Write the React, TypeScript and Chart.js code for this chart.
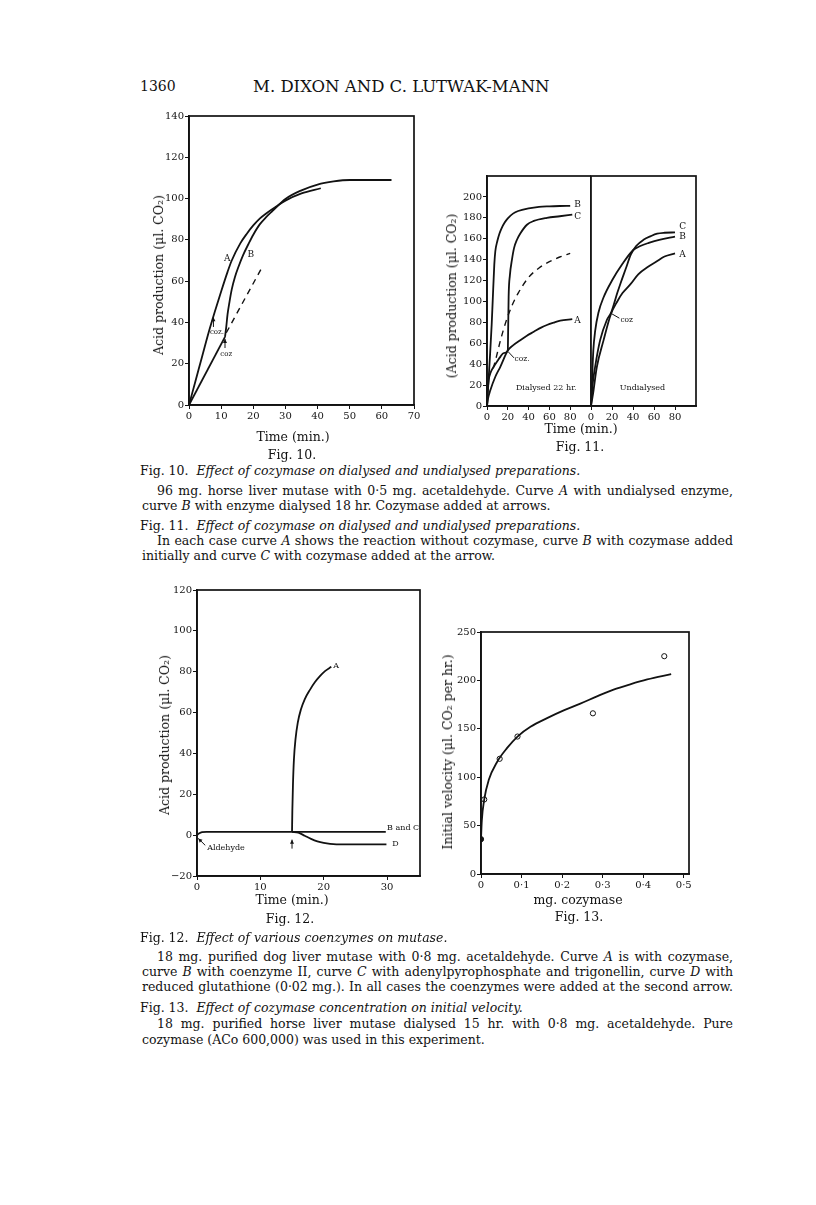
import React, { useEffect, useRef } from 'react';
import { Chart, registerables } from 'chart.js';

Chart.register(...registerables);

const INK = '#121212';
const SERIF = '"DejaVu Serif", "Liberation Serif", serif';

// ---------- Fig. 10 ----------
const fig10XTicks = [0, 10, 20, 30, 40, 50, 60, 70];
const fig10YTicks = [0, 20, 40, 60, 80, 100, 120, 140];
const fig10ATime = [0, 2, 4, 6, 8, 10, 12, 13.3, 16, 18, 20, 22, 24, 27, 30, 35, 41];
const fig10AAcid = [0, 11.5, 23, 34.5, 45, 55, 64.5, 70, 78.4, 83, 87, 90.3, 92.8, 96, 99, 102.5, 105];
const fig10BLagTime = [0, 11.2];
const fig10BLagAcid = [0, 33];
const fig10BTime = [11.2, 11.6, 12, 12.6, 13.3, 14.3, 15.4, 16.8, 18.5, 20, 22, 24, 26, 30, 35, 40, 45, 50, 63];
const fig10BAcid = [33, 38, 44, 50, 56, 62, 67, 72.5, 78, 82.5, 87.5, 91, 94, 99.8, 104, 106.8, 108.3, 109, 109];
const fig10DashTime = [11.6, 23];
const fig10DashAcid = [35, 67.5];

// ---------- Fig. 11 ----------
const fig11XTicks = [0, 20, 40, 60, 80];
const fig11YTicks = [0, 20, 40, 60, 80, 100, 120, 140, 160, 180, 200];
// Dialysed 22 hr.
const fig11DialBTime = [0, 1.5, 3, 4.5, 5.5, 7, 8, 10, 12, 14, 17, 20, 25, 30, 40, 50, 60, 70, 80];
const fig11DialBAcid = [0, 25, 50, 78, 101, 135, 148, 158, 165, 170, 175.5, 179.5, 184, 186.5, 189, 190.5, 191, 191.3, 191.5];
const fig11DialCTime = [0, 0.5, 1.6, 3.5, 6.4, 10, 12.8, 16, 20, 20.3, 20.8, 22, 24, 26, 28.8, 32, 38.4, 45, 57.6, 70, 82];
const fig11DialCAcid = [0, 12, 24.7, 32, 37.5, 43, 47, 50.5, 53, 70, 104.6, 125, 140, 151, 159, 165, 173.4, 177, 180, 181.5, 183];
const fig11DialATime = [0, 1, 3.2, 8, 12.8, 20, 25, 32, 38, 45, 52, 57.6, 65, 70.4, 82];
const fig11DialAAcid = [0, 7, 15, 28, 37.5, 53, 58, 63, 67, 71, 75, 77.5, 80, 81.6, 83];
const fig11DialDashTime = [6, 9, 13, 18, 24, 30, 40, 50, 60, 70, 80];
const fig11DialDashAcid = [36, 47, 63, 80, 96, 108, 123, 132, 138, 142.5, 146];
// Undialysed
const fig11UndBTime = [0, 0.5, 1, 2.2, 4, 7, 12, 20, 30, 40, 47, 55, 65, 80];
const fig11UndBAcid = [0, 14, 25, 53, 72, 89, 104, 120, 136, 149, 153, 156, 159, 162];
const fig11UndCTime = [0, 1.5, 4, 8.7, 15, 19, 22, 25, 28, 33, 38, 43, 50, 57, 63, 70, 80];
const fig11UndCAcid = [0, 20, 38, 63, 82, 89, 98, 108, 117, 131, 145, 153, 159, 162.5, 164.8, 165.7, 166];
const fig11UndATime = [0, 2, 5.5, 12, 19, 25, 30, 38, 45, 54, 62, 70, 80];
const fig11UndAAcid = [0, 12, 37, 63, 88, 100, 108, 117, 126, 133, 138, 143, 146];

// ---------- Fig. 12 ----------
const fig12XTicks = [0, 10, 20, 30];
const fig12YTicks = [-20, 0, 20, 40, 60, 80, 100, 120];
const fig12YLabels = ['\u221220', '0', '20', '40', '60', '80', '100', '120'];
const fig12BaseTime = [0, 0.3, 0.8, 1.5, 15];
const fig12BaseAcid = [0, 0.8, 1.5, 1.6, 1.6];
const fig12ATime = [15, 15.05, 15.15, 15.3, 15.55, 15.9, 16.4, 17, 17.8, 18.6, 19.4, 20.2, 21.2];
const fig12AAcid = [1.6, 12, 25, 37, 47, 55, 61.5, 66.5, 71, 74.8, 77.8, 80.3, 82.4];
const fig12BCTime = [15, 29.8];
const fig12BCAcid = [1.6, 1.6];
const fig12DTime = [15, 16, 17, 18, 19, 20, 21, 22, 25, 29.9];
const fig12DAcid = [1.6, 1.2, -0.3, -1.8, -3, -3.8, -4.3, -4.5, -4.5, -4.5];

// ---------- Fig. 13 ----------
const fig13XTicks = [0, 0.1, 0.2, 0.3, 0.4, 0.5];
const fig13XLabels = ['0', '0\u00b71', '0\u00b72', '0\u00b73', '0\u00b74', '0\u00b75'];
const fig13YTicks = [0, 50, 100, 150, 200, 250];
const fig13PointDose = [0, 0.008, 0.046, 0.09, 0.276, 0.452];
const fig13PointVelocity = [36, 77, 119, 142, 166, 225];
const fig13CurveDose = [0, 0.002, 0.008, 0.019, 0.04, 0.064, 0.09, 0.122, 0.163, 0.204, 0.245, 0.286, 0.327, 0.368, 0.41, 0.469];
const fig13CurveVelocity = [36, 55, 77, 97, 116, 130, 142, 152, 161, 169, 176, 183.5, 190.5, 196, 201, 206.5];

type Item =
  | { t: 'text'; x: number; y: number; s: string; align?: CanvasTextAlign; size?: number }
  | { t: 'line'; x1: number; y1: number; x2: number; y2: number }
  | { t: 'arrow'; x1: number; y1: number; x2: number; y2: number };

const frameAnn = {
  id: 'frameAnn',
  afterDatasetsDraw(chart: any, _args: any, opts: any) {
    const { ctx, chartArea: a } = chart;
    const sx = chart.scales.x;
    const sy = chart.scales.y;
    ctx.save();
    ctx.strokeStyle = INK;
    ctx.fillStyle = INK;
    ctx.lineWidth = 1.7;
    ctx.strokeRect(a.left, a.top, a.right - a.left, a.bottom - a.top);
    const items: Item[] = opts.items || [];
    for (const it of items) {
      if (it.t === 'text') {
        ctx.font = `${it.size ?? 9}px ${SERIF}`;
        ctx.textAlign = it.align ?? 'center';
        ctx.textBaseline = 'middle';
        ctx.fillText(it.s, sx.getPixelForValue(it.x), sy.getPixelForValue(it.y));
      } else {
        const x1 = sx.getPixelForValue(it.x1);
        const y1 = sy.getPixelForValue(it.y1);
        const x2 = sx.getPixelForValue(it.x2);
        const y2 = sy.getPixelForValue(it.y2);
        ctx.lineWidth = 1;
        ctx.beginPath();
        ctx.moveTo(x1, y1);
        ctx.lineTo(x2, y2);
        ctx.stroke();
        if (it.t === 'arrow') {
          const ang = Math.atan2(y2 - y1, x2 - x1);
          const L = 4;
          const W = 2;
          ctx.beginPath();
          ctx.moveTo(x2, y2);
          ctx.lineTo(x2 - L * Math.cos(ang) + W * Math.sin(ang), y2 - L * Math.sin(ang) - W * Math.cos(ang));
          ctx.lineTo(x2 - L * Math.cos(ang) - W * Math.sin(ang), y2 - L * Math.sin(ang) + W * Math.cos(ang));
          ctx.closePath();
          ctx.fill();
        }
      }
    }
    ctx.restore();
  },
};

function axis(o: {
  min: number; max: number; ticks: number[]; labels?: string[]; size: number; horizontal: boolean; display?: boolean;
}) {
  const labels = o.labels ?? o.ticks.map((v) => String(v));
  return {
    type: 'linear',
    display: o.display ?? true,
    min: o.min,
    max: o.max,
    afterBuildTicks: (s: any) => {
      s.ticks = o.ticks.map((v) => ({ value: v }));
    },
    afterFit: (s: any) => {
      if (o.horizontal) s.height = o.size;
      else s.width = o.size;
    },
    ticks: {
      autoSkip: false,
      maxRotation: 0,
      minRotation: 0,
      padding: 1,
      color: INK,
      font: { family: SERIF, size: 10 },
      callback: (_v: any, i: number) => labels[i],
    },
    grid: { display: true, drawOnChartArea: false, drawTicks: true, tickLength: 4, color: INK, lineWidth: 1 },
    border: { display: true, color: INK, width: 1.7 },
    title: { display: false },
  };
}

function curve(xs: number[], ys: number[], extra: any = {}) {
  return {
    data: xs.map((x, i) => ({ x, y: ys[i] })),
    borderColor: INK,
    borderWidth: 1.8,
    pointRadius: 0,
    fill: false,
    cubicInterpolationMode: 'monotone',
    ...extra,
  };
}

function buildConfig(p: {
  datasets: any[];
  x: any;
  y: any;
  padding: { left: number; top: number; right: number; bottom: number };
  items: Item[];
}) {
  return {
    type: 'line',
    data: { datasets: p.datasets },
    plugins: [frameAnn],
    options: {
      responsive: false,
      animation: false,
      devicePixelRatio: 1,
      events: [],
      layout: { padding: p.padding },
      plugins: { legend: { display: false }, tooltip: { enabled: false }, frameAnn: { items: p.items } },
      scales: { x: p.x, y: p.y },
    },
  };
}

function ChartCanvas({ left, top, width, height, make }: { left: number; top: number; width: number; height: number; make: () => any }) {
  const ref = useRef<HTMLCanvasElement | null>(null);
  useEffect(() => {
    if (!ref.current) return;
    const chart = new Chart(ref.current, make());
    return () => chart.destroy();
  }, []);
  return <canvas ref={ref} width={width} height={height} style={{ position: 'absolute', left, top, width, height }} />;
}

function Txt({ x, y, size = 12.5, anchor = 'start', width, justify = false, rotate = false, children }: any) {
  const lh = Math.round(size * 1.25);
  const style: React.CSSProperties = {
    position: 'absolute',
    fontFamily: SERIF,
    fontSize: size,
    lineHeight: lh + 'px',
    color: INK,
    whiteSpace: 'nowrap',
  };
  if (rotate) {
    style.left = x;
    style.top = y;
    style.transform = 'translate(-50%, -50%) rotate(-90deg)';
  } else if (anchor === 'middle') {
    style.left = x;
    style.top = y - lh / 2;
    style.transform = 'translateX(-50%)';
  } else {
    style.left = x;
    style.top = y - lh / 2;
    if (width) style.width = width;
    if (justify) {
      style.textAlign = 'justify';
      (style as any).textAlignLast = 'justify';
    }
  }
  return <div style={style}>{children}</div>;
}

const makeFig10 = () =>
  buildConfig({
    datasets: [
      curve(fig10ATime, fig10AAcid),
      curve(fig10BLagTime, fig10BLagAcid, { cubicInterpolationMode: 'default', tension: 0 }),
      curve(fig10BTime, fig10BAcid),
      curve(fig10DashTime, fig10DashAcid, { borderDash: [6, 5], borderWidth: 1.4 }),
    ],
    x: axis({ min: 0, max: 70, ticks: fig10XTicks, size: 25, horizontal: true }),
    y: axis({ min: 0, max: 140, ticks: fig10YTicks, size: 49, horizontal: false }),
    padding: { left: 0, top: 16, right: 16, bottom: 0 },
    items: [
      { t: 'text', x: 11.9, y: 71, s: 'A' },
      { t: 'text', x: 19.2, y: 73, s: 'B' },
      { t: 'arrow', x1: 7.6, y1: 37.8, x2: 7.6, y2: 42.5 },
      { t: 'text', x: 8.7, y: 35.4, s: 'coz.', size: 7 },
      { t: 'arrow', x1: 11.2, y1: 27.6, x2: 11.2, y2: 32 },
      { t: 'text', x: 11.6, y: 24.4, s: 'coz', size: 7 },
    ],
  });

const makeFig11Left = () =>
  buildConfig({
    datasets: [
      curve(fig11DialBTime, fig11DialBAcid),
      curve(fig11DialCTime, fig11DialCAcid),
      curve(fig11DialATime, fig11DialAAcid),
      curve(fig11DialDashTime, fig11DialDashAcid, { borderDash: [6, 5], borderWidth: 1.4 }),
    ],
    x: axis({ min: 0, max: 100, ticks: fig11XTicks, size: 24, horizontal: true }),
    y: axis({ min: 0, max: 220, ticks: fig11YTicks, size: 57, horizontal: false }),
    padding: { left: 0, top: 16, right: 0, bottom: 0 },
    items: [
      { t: 'text', x: 84, y: 193, s: 'B', align: 'left' },
      { t: 'text', x: 84, y: 181, s: 'C', align: 'left' },
      { t: 'text', x: 84, y: 82, s: 'A', align: 'left' },
      { t: 'line', x1: 20.3, y1: 52, x2: 26, y2: 46 },
      { t: 'text', x: 26.5, y: 45, s: 'coz.', size: 7.5, align: 'left' },
      { t: 'text', x: 57, y: 17.6, s: 'Dialysed 22 hr.', size: 8 },
    ],
  });

const makeFig11Right = () =>
  buildConfig({
    datasets: [
      curve(fig11UndBTime, fig11UndBAcid),
      curve(fig11UndCTime, fig11UndCAcid),
      curve(fig11UndATime, fig11UndAAcid),
    ],
    x: axis({ min: 0, max: 100, ticks: fig11XTicks, size: 24, horizontal: true }),
    y: axis({ min: 0, max: 220, ticks: fig11YTicks, size: 0, horizontal: false, display: false }),
    padding: { left: 10, top: 16, right: 10, bottom: 0 },
    items: [
      { t: 'text', x: 84, y: 171.5, s: 'C', align: 'left' },
      { t: 'text', x: 84, y: 162.3, s: 'B', align: 'left' },
      { t: 'text', x: 84, y: 144.5, s: 'A', align: 'left' },
      { t: 'line', x1: 19.3, y1: 88.5, x2: 27, y2: 84 },
      { t: 'text', x: 28, y: 82.5, s: 'coz', size: 7.5, align: 'left' },
      { t: 'text', x: 49, y: 17.6, s: 'Undialysed', size: 8 },
    ],
  });

const makeFig12 = () =>
  buildConfig({
    datasets: [
      curve(fig12BaseTime, fig12BaseAcid),
      curve(fig12ATime, fig12AAcid),
      curve(fig12BCTime, fig12BCAcid),
      curve(fig12DTime, fig12DAcid),
    ],
    x: axis({ min: 0, max: 35.2, ticks: fig12XTicks, size: 28, horizontal: true }),
    y: axis({ min: -20, max: 120, ticks: fig12YTicks, labels: fig12YLabels, size: 57, horizontal: false }),
    padding: { left: 0, top: 16, right: 15, bottom: 0 },
    items: [
      { t: 'text', x: 21.5, y: 83, s: 'A', size: 8, align: 'left' },
      { t: 'text', x: 30, y: 3.6, s: 'B and C', size: 8, align: 'left' },
      { t: 'text', x: 30.8, y: -4.5, s: 'D', size: 8, align: 'left' },
      { t: 'arrow', x1: 15, y1: -6.6, x2: 15, y2: -2.2 },
      { t: 'arrow', x1: 1.3, y1: -5, x2: 0.2, y2: -1.6 },
      { t: 'text', x: 1.6, y: -6.3, s: 'Aldehyde', size: 8, align: 'left' },
    ],
  });

const makeFig13 = () =>
  buildConfig({
    datasets: [
      curve(fig13CurveDose, fig13CurveVelocity),
      {
        data: fig13PointDose.map((x, i) => ({ x, y: fig13PointVelocity[i] })),
        showLine: false,
        pointRadius: 2.6,
        pointBorderWidth: 1,
        pointBorderColor: INK,
        pointBackgroundColor: fig13PointDose.map((_, i) => (i === 0 ? INK : '#ffffff')),
      },
    ],
    x: axis({ min: 0, max: 0.513, ticks: fig13XTicks, labels: fig13XLabels, size: 32, horizontal: true }),
    y: axis({ min: 0, max: 250, ticks: fig13YTicks, size: 51, horizontal: false }),
    padding: { left: 0, top: 16, right: 11, bottom: 0 },
    items: [],
  });

export default function App() {
  const W = 733;
  return (
    <div style={{ position: 'absolute', left: 0, top: 0, width: 816, height: 1205, background: '#ffffff', overflow: 'hidden' }}>
      <Txt x={140} y={86} size={14}>1360</Txt>
      <Txt x={253} y={86} size={16.5}>M. DIXON AND C. LUTWAK-MANN</Txt>

      <ChartCanvas left={140} top={100} width={290} height={330} make={makeFig10} />
      <Txt x={159} y={275} rotate>Acid production (&mu;l. CO&#8322;)</Txt>
      <Txt x={293} y={437} anchor="middle">Time (min.)</Txt>
      <Txt x={292} y={455} anchor="middle">Fig. 10.</Txt>

      <ChartCanvas left={430} top={160} width={161} height={270} make={makeFig11Left} />
      <ChartCanvas left={581} top={160} width={125} height={270} make={makeFig11Right} />
      <Txt x={452} y={296} rotate>(Acid production (&mu;l. CO&#8322;)</Txt>
      <Txt x={581} y={429} anchor="middle">Time (min.)</Txt>
      <Txt x={580} y={447} anchor="middle">Fig. 11.</Txt>

      <Txt x={140} y={471}>Fig. 10.&nbsp;&nbsp;<i>Effect of cozymase on dialysed and undialysed preparations.</i></Txt>
      <Txt x={157} y={491} width={W - 157} justify>96 mg. horse liver mutase with 0&middot;5 mg. acetaldehyde. Curve <i>A</i> with undialysed enzyme,</Txt>
      <Txt x={142} y={506}>curve <i>B</i> with enzyme dialysed 18 hr. Cozymase added at arrows.</Txt>
      <Txt x={140} y={526}>Fig. 11.&nbsp;&nbsp;<i>Effect of cozymase on dialysed and undialysed preparations.</i></Txt>
      <Txt x={157} y={541} width={W - 157} justify>In each case curve <i>A</i> shows the reaction without cozymase, curve <i>B</i> with cozymase added</Txt>
      <Txt x={142} y={556}>initially and curve <i>C</i> with cozymase added at the arrow.</Txt>

      <ChartCanvas left={140} top={574} width={295} height={330} make={makeFig12} />
      <Txt x={165} y={735} rotate>Acid production (&mu;l. CO&#8322;)</Txt>
      <Txt x={292} y={900} anchor="middle">Time (min.)</Txt>
      <Txt x={290} y={919} anchor="middle">Fig. 12.</Txt>

      <ChartCanvas left={430} top={616} width={270} height={290} make={makeFig13} />
      <Txt x={448} y={752} rotate>Initial velocity (&mu;l. CO&#8322; per hr.)</Txt>
      <Txt x={578} y={900} anchor="middle">mg. cozymase</Txt>
      <Txt x={579} y={917} anchor="middle">Fig. 13.</Txt>

      <Txt x={140} y={938}>Fig. 12.&nbsp;&nbsp;<i>Effect of various coenzymes on mutase.</i></Txt>
      <Txt x={157} y={957} width={W - 157} justify>18 mg. purified dog liver mutase with 0&middot;8 mg. acetaldehyde. Curve <i>A</i> is with cozymase,</Txt>
      <Txt x={142} y={972} width={W - 142} justify>curve <i>B</i> with coenzyme II, curve <i>C</i> with adenylpyrophosphate and trigonellin, curve <i>D</i> with</Txt>
      <Txt x={142} y={987} width={W - 142} justify>reduced glutathione (0&middot;02 mg.). In all cases the coenzymes were added at the second arrow.</Txt>
      <Txt x={140} y={1008}>Fig. 13.&nbsp;&nbsp;<i>Effect of cozymase concentration on initial velocity.</i></Txt>
      <Txt x={157} y={1024} width={W - 157} justify>18 mg. purified horse liver mutase dialysed 15 hr. with 0&middot;8 mg. acetaldehyde. Pure</Txt>
      <Txt x={142} y={1040}>cozymase (ACo 600,000) was used in this experiment.</Txt>
    </div>
  );
}
